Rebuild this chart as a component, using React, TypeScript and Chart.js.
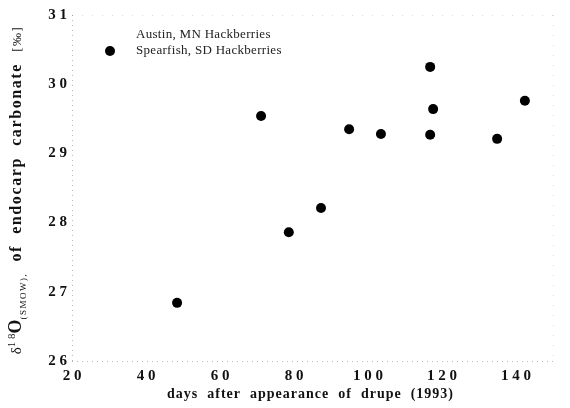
import React, { useEffect, useRef } from "react";
import { Chart, registerables } from "chart.js";

Chart.register(...registerables);

// ---- data ----
const austinLabel = "Austin, MN Hackberries";
const spearfishLabel = "Spearfish, SD Hackberries";
const austinDays: number[] = [];
const austinDelta: number[] = [];
const spearfishDays = [48.4, 71.1, 78.6, 87.3, 94.9, 103.5, 116.8, 117.6, 116.8, 134.9, 142.4];
const spearfishDelta = [26.84, 29.54, 27.86, 28.21, 29.35, 29.28, 30.25, 29.64, 29.27, 29.21, 29.76];
const xTickValues = [20, 40, 60, 80, 100, 120, 140];
const xTickLabels = ["2 0", "4 0", "6 0", "8 0", "1 0 0", "1 2 0", "1 4 0"];
const yTickValues = [26, 27, 28, 29, 30, 31];
const yTickLabels = ["2 6", "2 7", "2 8", "2 9", "3 0", "3 1"];
const xTitle = "days  after  appearance  of  drupe  (1993)";
const yTitleParts = ["δ", "1 8", "O", "(SMOW),", "  of  endocarp  carbonate  ", "[‰]"];

const SERIF = '"Liberation Serif", "Times New Roman", serif';

const framePlugin = {
  id: "frame",
  beforeDatasetsDraw(chart: any) {
    const { ctx, chartArea } = chart;
    const { left, right, top, bottom } = chartArea;
    ctx.save();
    ctx.strokeStyle = "rgba(0,0,0,0.28)";
    ctx.lineWidth = 1;
    ctx.setLineDash([1, 4]);
    ctx.beginPath();
    ctx.moveTo(left + 0.5, top);
    ctx.lineTo(left + 0.5, bottom);
    ctx.moveTo(left, bottom + 0.5);
    ctx.lineTo(right, bottom + 0.5);
    ctx.stroke();
    ctx.strokeStyle = "rgba(0,0,0,0.15)";
    ctx.setLineDash([1, 9]);
    ctx.beginPath();
    ctx.moveTo(left, top + 0.5);
    ctx.lineTo(right, top + 0.5);
    ctx.moveTo(right + 0.5, top);
    ctx.lineTo(right + 0.5, bottom);
    ctx.stroke();
    ctx.restore();
  },
};

const textPlugin = {
  id: "texts",
  afterDraw(chart: any) {
    const { ctx, chartArea } = chart;
    const { left, right, top, bottom } = chartArea;
    ctx.save();
    ctx.fillStyle = "#111";

    // x title
    ctx.font = `bold 14px ${SERIF}`;
    (ctx as any).letterSpacing = "1px";
    ctx.textAlign = "center";
    ctx.textBaseline = "alphabetic";
    ctx.fillText(xTitle, (left + right) / 2 - 2, 398);

    // y title (rotated, mixed fonts)
    const styles = [
      { f: `15px ${SERIF}`, dy: 0, ls: "0px" },
      { f: `11px ${SERIF}`, dy: -6, ls: "0px" },
      { f: `bold 18px ${SERIF}`, dy: 0, ls: "0px" },
      { f: `9px ${SERIF}`, dy: 5, ls: "1.5px" },
      { f: `bold 16px ${SERIF}`, dy: 0, ls: "1.6px" },
      { f: `13px ${SERIF}`, dy: 0, ls: "1.5px" },
    ];
    ctx.textAlign = "left";
    let total = 0;
    const widths: number[] = [];
    yTitleParts.forEach((t, i) => {
      ctx.font = styles[i].f;
      (ctx as any).letterSpacing = styles[i].ls;
      const w = ctx.measureText(t).width;
      widths.push(w);
      total += w;
    });
    ctx.translate(21, (top + bottom) / 2 + 2);
    ctx.rotate(-Math.PI / 2);
    let x = -total / 2;
    yTitleParts.forEach((t, i) => {
      ctx.font = styles[i].f;
      (ctx as any).letterSpacing = styles[i].ls;
      ctx.fillText(t, x, styles[i].dy);
      x += widths[i];
    });
    ctx.restore();

    // legend (inside plot, top-left)
    ctx.save();
    ctx.fillStyle = "#222";
    ctx.font = `13px ${SERIF}`;
    (ctx as any).letterSpacing = "0.3px";
    ctx.textAlign = "left";
    ctx.textBaseline = "middle";
    const labels = chart.data.datasets.map((d: any) => d.label);
    const rowY = [top + 20, top + 36];
    labels.forEach((lab: string, i: number) => {
      const ds = chart.data.datasets[i];
      if (ds.pointRadius > 0) {
        ctx.beginPath();
        ctx.fillStyle = ds.backgroundColor;
        ctx.arc(left + 38, rowY[i], ds.pointRadius, 0, Math.PI * 2);
        ctx.fill();
      }
      ctx.fillStyle = "#222";
      ctx.fillText(lab, left + 64, rowY[i]);
    });
    ctx.restore();
  },
};

export default function App() {
  const ref = useRef<HTMLCanvasElement | null>(null);
  useEffect(() => {
    if (!ref.current) return;
    const tickFont = { family: SERIF, size: 15, weight: "bold" as const };
    const chart = new Chart(ref.current, {
      type: "scatter",
      data: {
        datasets: [
          {
            label: austinLabel,
            data: austinDays.map((x, i) => ({ x, y: austinDelta[i] })),
            pointRadius: 0,
            backgroundColor: "#000",
            borderColor: "#000",
          },
          {
            label: spearfishLabel,
            data: spearfishDays.map((x, i) => ({ x, y: spearfishDelta[i] })),
            pointRadius: 5,
            pointHoverRadius: 5,
            backgroundColor: "#000",
            borderColor: "#000",
            borderWidth: 0,
          },
        ],
      },
      options: {
        responsive: false,
        animation: false,
        devicePixelRatio: 1,
        layout: { padding: { top: 15, right: 17, left: 0, bottom: 0 } },
        plugins: { legend: { display: false }, tooltip: { enabled: false } },
        scales: {
          x: {
            type: "linear",
            min: 20,
            max: 150,
            grid: { display: false, drawTicks: false },
            border: { display: false },
            ticks: {
              font: tickFont,
              color: "#111",
              padding: 6,
              maxRotation: 0,
              autoSkip: false,
              callback: (v: any) => {
                const i = xTickValues.indexOf(Number(v));
                return i >= 0 ? xTickLabels[i] : "";
              },
            },
            afterBuildTicks: (s: any) => {
              s.ticks = xTickValues.map((v) => ({ value: v }));
            },
            afterFit: (s: any) => {
              s.height = 47;
            },
          },
          y: {
            type: "linear",
            min: 26,
            max: 31,
            grid: { display: false, drawTicks: false },
            border: { display: false },
            ticks: {
              font: tickFont,
              color: "#111",
              padding: 5,
              autoSkip: false,
              callback: (v: any) => {
                const i = yTickValues.indexOf(Number(v));
                return i >= 0 ? yTickLabels[i] : "";
              },
            },
            afterBuildTicks: (s: any) => {
              s.ticks = yTickValues.map((v) => ({ value: v }));
            },
            afterFit: (s: any) => {
              s.width = 72;
            },
          },
        },
      },
      plugins: [framePlugin, textPlugin],
    });
    return () => chart.destroy();
  }, []);

  return (
    <div style={{ position: "fixed", left: 0, top: 0, width: 570, height: 408, background: "#fff" }}>
      <canvas ref={ref} width={570} height={408} style={{ display: "block" }} />
    </div>
  );
}
